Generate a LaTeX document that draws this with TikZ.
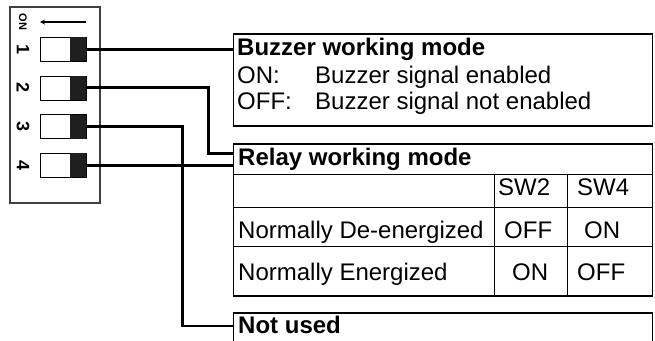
\documentclass[tikz,border=0pt]{standalone}
\usepackage{fontspec}
\setmainfont{Liberation Sans}
\usetikzlibrary{arrows,positioning}
\tikzset{
  dip/.style={
    rectangle,
    minimum width=90pt,
    minimum height=196pt,
    draw=black!75,
    line width=1.3pt
    },
  lever/.style={
    rectangle,
    minimum width=46pt,
    minimum height=24pt,
    inner sep=0pt,
    draw=black,
    line width=0.8pt,
    fill=white
    },
  knob/.style={
    rectangle,
    minimum width=16pt,
    minimum height=24pt,
    inner sep=0pt,
    fill=black!88
    },
  swnum/.style={rotate=-90, inner sep=0pt, font=\fontsize{18}{20}\selectfont\bfseries},
  infobox/.style={
    rectangle,
    minimum width=419pt,
    inner sep=0pt,
    draw=black,
    line width=1.1pt
    },
  txt/.style={anchor=base west, inner sep=0pt, font=\fontsize{24}{28}\selectfont},
  head/.style={txt, font=\fontsize{24}{28}\selectfont\bfseries},
  rule/.style={line width=1pt},
  wire/.style={line width=2.9pt},
}

\begin{document}
\begin{tikzpicture}[
            x = 1pt, y = -1pt, % one unit per pixel, y downwards
            > = stealth % arrow head style
        ]
         \useasboundingbox (0,0) rectangle (655,340);

         % dip switch block
         \node[dip] (dip) at (55,105) {};
         \node[swnum, font=\fontsize{11}{13}\selectfont\bfseries] (on) at (23,22) {ON};
         \coordinate (ontail) at (86,22);
         \coordinate (onhead) at (40,22);
         \draw[->, line width=1.2pt] (ontail) -- (onhead);

         \node[lever] (sw1) at (63,49.3) {};
         \node[lever, below=13.8pt of sw1] (sw2) {};
         \node[lever, below=13.8pt of sw2] (sw3) {};
         \node[lever, below=13.8pt of sw3] (sw4) {};
         \node[knob, anchor=east] (k1) at (sw1.east) {};
         \node[knob, anchor=east] (k2) at (sw2.east) {};
         \node[knob, anchor=east] (k3) at (sw3.east) {};
         \node[knob, anchor=east] (k4) at (sw4.east) {};
         \node[swnum] (n1) at ([xshift=-40pt]sw1.center) {1};
         \node[swnum] (n2) at ([xshift=-40pt]sw2.center) {2};
         \node[swnum] (n3) at ([xshift=-40pt]sw3.center) {3};
         \node[swnum] (n4) at ([xshift=-40pt]sw4.center) {4};

         % buzzer
         \node[infobox, minimum height=92pt] (buzzer) at (443,80) {};
         \node[head] (bzhead) at (237,55) {Buzzer working mode};
         \node[txt] (bzon) at (237,83.5) {ON:};
         \node[txt] (bzondesc) at (315,83.5) {Buzzer signal enabled};
         \node[txt] (bzoff) at (237,109.5) {OFF:};
         \node[txt] (bzoffdesc) at (315,109.5) {Buzzer signal not enabled};

         % relay
         \node[infobox, minimum height=152pt] (relay) at (443,220) {};
         \node[head] (rlhead) at (238,165) {Relay working mode};
         \draw[rule] ([yshift=-31pt]relay.north west) -- ([yshift=-31pt]relay.north east);
         \draw[rule] ([yshift=-64pt]relay.north west) -- ([yshift=-64pt]relay.north east);
         \draw[rule] ([yshift=-103.5pt]relay.north west) -- ([yshift=-103.5pt]relay.north east);
         \draw[rule] ([xshift=262pt,yshift=-31pt]relay.north west) -- ([xshift=262pt]relay.south west);
         \draw[rule] ([xshift=335pt,yshift=-31pt]relay.north west) -- ([xshift=335pt]relay.south west);
         \node[txt] (sw2col) at (498,195) {SW2};
         \node[txt] (sw4col) at (577,195) {SW4};
         \node[txt] (deen) at (238,238) {Normally De-energized};
         \node[txt] (deensw2) at (504,238) {OFF};
         \node[txt] (deensw4) at (584,238) {ON};
         \node[txt] (en) at (238,280) {Normally Energized};
         \node[txt] (ensw2) at (512,280) {ON};
         \node[txt] (ensw4) at (577,280) {OFF};

         % not used
         \node[infobox, minimum height=40pt] (notused) at (443,333) {};
         \node[head] (nuhead) at (238,333) {Not used};

         % wires
         \draw[wire] (k1.east) -- (k1.east -| buzzer.west);
         \draw[wire] (k2.east) -- ++(122,0) |- ([yshift=-10pt]relay.north west);
         \draw[wire] (k3.east) -- ++(96,0) |- ([yshift=7pt]notused.west);
         \draw[wire] (k4.east) -- (k4.east -| relay.west);
  \end{tikzpicture}
\end{document}
